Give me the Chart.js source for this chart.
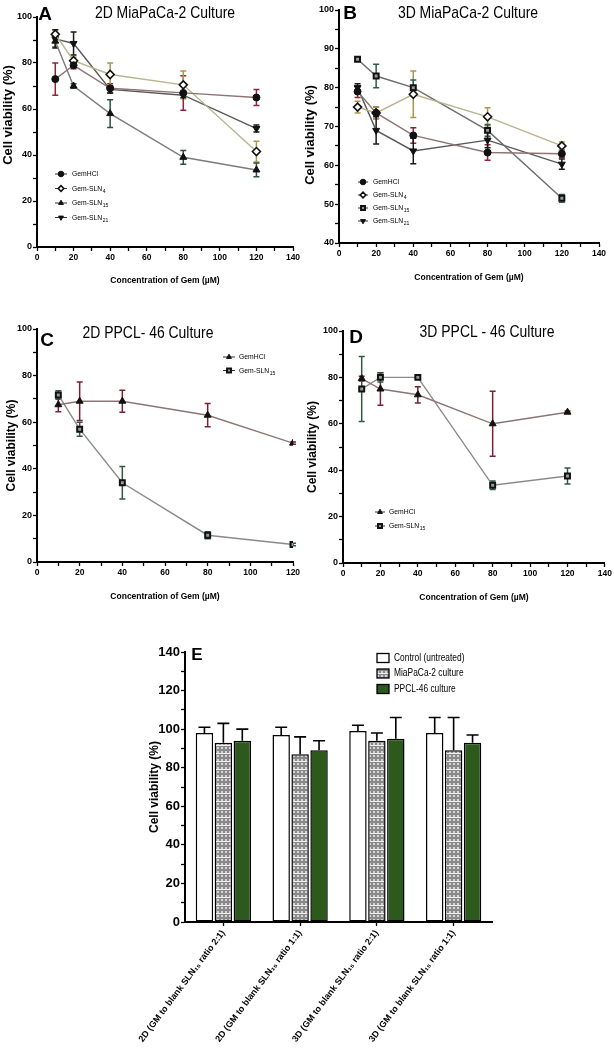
<!DOCTYPE html>
<html><head><meta charset="utf-8">
<script src="https://cdn.jsdelivr.net/npm/chart.js@4.4.1/dist/chart.umd.min.js"></script>
<style>
html,body{margin:0;padding:0;background:#fff;}
#wrap{position:relative;width:614px;height:1050px;overflow:hidden;background:#fff;}
canvas{position:absolute;}
</style></head><body>
<div id="wrap">
<canvas id="cA" width="310" height="300" style="left:0px;top:0px"></canvas>
<canvas id="cB" width="318" height="300" style="left:296px;top:0px"></canvas>
<canvas id="cC" width="304" height="310" style="left:0px;top:300px"></canvas>
<canvas id="cD" width="318" height="310" style="left:296px;top:300px"></canvas>
<canvas id="cE" width="574" height="420" style="left:40px;top:630px"></canvas>
</div>
<script>
// ---------------- DATA ----------------
const conc = [10, 20, 40, 80, 120];

const namesA = ['GemHCl', 'Gem-SLN_4', 'Gem-SLN_15', 'Gem-SLN_21'];
const namesC = ['GemHCl', 'Gem-SLN_15'];

// Panel A: 2D MiaPaCa-2
const aGemHCl   = [73, 79, 69, 67, 65];
const aGemHClSd = [7, 1.5, 2, 7.5, 3.5];
const aSLN4     = [92.5, 81, 75, 70.5, 41.5];
const aSLN4Sd   = [2, 1.5, 5, 6, 4.5];
const aSLN15    = [89.5, 70, 58, 39, 33.5];
const aSLN15Sd  = [2.5, 1, 6, 3, 3];
const aSLN21    = [90.5, 88.5, 68.5, 66, 51.5];
const aSLN21Sd  = [4, 5, 1.5, 1, 1.5];

// Panel B: 3D MiaPaCa-2
const bGemHCl   = [79, 73.5, 67.7, 63.3, 63];
const bGemHClSd = [1.5, 1.5, 2, 2, 1];
const bSLN4     = [75, 73.5, 78.3, 72.5, 65];
const bSLN4Sd   = [1.5, 1.5, 6, 2.3, 1];
const bSLN15    = [87.3, 83, 80, 69, 51.5];
const bSLN15Sd  = [0.5, 3, 2, 1.5, 1];
const bSLN21    = [80, 69, 63.7, 66.5, 60.3];
const bSLN21Sd  = [1, 3.5, 3.3, 2, 1.3];

// Panel C: 2D PPCL-46
const cGemHCl   = [67.5, 69, 69, 63, 51];
const cGemHClSd = [3, 8.3, 4.7, 5, 0.5];
const cSLN15    = [71.7, 57, 34, 11.5, 7.5];
const cSLN15Sd  = [1.8, 3, 7, 1.5, 0.5];

// Panel D: 3D PPCL-46
const dGemHCl   = [79.5, 75, 72.5, 60, 65];
const dGemHClSd = [1, 7, 3.5, 14, 0.5];
const dSLN15    = [75, 80, 80, 33.5, 37.5];
const dSLN15Sd  = [14, 2, 0.5, 1.8, 3.5];

// Panel E: blank SLN
const eCategories = [
  '2D (GM to blank SLN\u2081\u2085 ratio 2:1)',
  '2D (GM to blank SLN\u2081\u2085 ratio 1:1)',
  '3D (GM to blank SLN\u2081\u2085 ratio 2:1)',
  '3D (GM to blank SLN\u2081\u2085 ratio 1:1)'
];
const eSeries = ['Control (untreated)', 'MiaPaCa-2 culture', 'PPCL-46 culture'];
const eControl   = [98, 97, 99, 98];
const eControlSd = [3, 4, 3, 8];
const eMia       = [93, 87, 94, 89];
const eMiaSd     = [10, 9, 4, 17];
const ePPCL      = [94, 89, 95, 93];
const ePPCLSd    = [6, 5, 11, 4];

// ---------------- STYLE / HELPERS ----------------
const SANS = "'Liberation Sans', Arial, sans-serif";
Chart.defaults.font.family = SANS;
Chart.defaults.color = '#000';

function drawErr(chart, o) {
  const ctx = chart.ctx;
  chart.data.datasets.forEach((ds, i) => {
    if (!ds.errors) return;
    const meta = chart.getDatasetMeta(i);
    const ys = chart.scales[meta.yAxisID];
    ctx.save();
    ctx.strokeStyle = ds.errColor || '#000';
    ctx.lineWidth = o.width || 1.5;
    meta.data.forEach((el, j) => {
      const e = ds.errors[j];
      if (!e) return;
      const raw = ds.data[j];
      const v = (typeof raw === 'object') ? raw.y : raw;
      const top = ys.getPixelForValue(v + e);
      const bot = o.upOnly ? ys.getPixelForValue(v) : ys.getPixelForValue(v - e);
      const x = el.x, c = o.cap || 3;
      ctx.beginPath();
      ctx.moveTo(x, top); ctx.lineTo(x, bot);
      ctx.moveTo(x - c, top); ctx.lineTo(x + c, top);
      if (!o.upOnly) { ctx.moveTo(x - c, bot); ctx.lineTo(x + c, bot); }
      ctx.stroke();
    });
    ctx.restore();
  });
}
const errorBars = {
  id: 'errorBars',
  beforeDatasetsDraw(chart, a, o) { if (o.layer === 'below') drawErr(chart, o); },
  afterDatasetsDraw(chart, a, o) { if (o.layer === 'above') drawErr(chart, o); }
};

const panelText = {
  id: 'panelText',
  afterDraw(chart, a, o) {
    if (!o.items) return;
    const ctx = chart.ctx;
    o.items.forEach(t => {
      ctx.save();
      ctx.translate(t.x, t.y);
      if (t.rot) ctx.rotate(t.rot * Math.PI / 180);
      ctx.scale(t.sx || 1, 1);
      ctx.font = t.font;
      ctx.fillStyle = '#000';
      ctx.textAlign = t.align || 'center';
      ctx.textBaseline = 'middle';
      ctx.fillText(t.text, 0, 0);
      ctx.restore();
    });
  }
};

function subText(ctx, label, x, y, size, family) {
  const parts = label.split('_');
  ctx.textAlign = 'left';
  ctx.textBaseline = 'middle';
  ctx.font = size + 'px ' + family;
  ctx.fillText(parts[0], x, y);
  if (parts[1]) {
    const w = ctx.measureText(parts[0]).width;
    ctx.font = Math.round(size * 0.75) + 'px ' + family;
    ctx.fillText(parts[1], x + w + 0.5, y + size * 0.3);
  }
}

const miniLegend = {
  id: 'miniLegend',
  afterDraw(chart, a, o) {
    if (o.x === undefined) return;
    const ctx = chart.ctx;
    chart.data.datasets.forEach((ds, i) => {
      const y = o.y + i * o.gap;
      ctx.save();
      if (o.box) {
        ctx.fillStyle = ds.backgroundColor;
        ctx.strokeStyle = '#000';
        ctx.lineWidth = 1.3;
        ctx.fillRect(o.x, y - o.bh / 2, o.bw, o.bh);
        ctx.strokeRect(o.x, y - o.bh / 2, o.bw, o.bh);
      } else {
        ctx.strokeStyle = '#333';
        ctx.lineWidth = 1;
        ctx.beginPath(); ctx.moveTo(o.x, y); ctx.lineTo(o.x + o.len, y); ctx.stroke();
        ctx.fillStyle = ds.pointBackgroundColor;
        ctx.strokeStyle = ds.pointBorderColor;
        ctx.lineWidth = ds.pointBorderWidth;
        Chart.helpers.drawPoint(ctx, {
          pointStyle: ds.pointStyle, rotation: ds.pointRotation || 0,
          radius: o.r || 3, borderWidth: ds.pointBorderWidth
        }, o.x + o.len / 2, y);
      }
      ctx.fillStyle = '#000';
      ctx.translate(o.tx, y);
      ctx.scale(o.sx || 1, 1);
      subText(ctx, ds.label, 0, 0, o.size, SANS);
      ctx.restore();
    });
  }
};
Chart.register(errorBars, panelText, miniLegend);

function lineDS(label, ys, sd, st) {
  return {
    label, data: conc.map((x, i) => ({ x, y: ys[i] })), errors: sd,
    borderColor: st.line, errColor: st.err, borderWidth: 1.4,
    pointStyle: st.point, pointRotation: st.rot || 0, pointRadius: st.r || 3.5,
    pointBackgroundColor: st.fill || '#111', pointBorderColor: '#111',
    pointBorderWidth: st.bw || 1, tension: 0, fill: false
  };
}

function linAxis(o) {
  return {
    type: 'linear', min: o.min, max: o.max,
    ticks: {
      stepSize: o.step, autoSkip: false, maxRotation: 0, minRotation: 0,
      padding: o.tpad === undefined ? 2 : o.tpad, color: '#000',
      font: { family: SANS, size: o.tsize, weight: 'bold' },
      callback: v => (Math.round(v) % o.every === 0 ? String(v) : '')
    },
    grid: { drawOnChartArea: false, drawTicks: true, tickLength: 4, tickWidth: 1.3, tickColor: '#000' },
    border: { display: true, color: '#000', width: 2 },
    title: { display: o.showTitle !== false, text: o.title, color: '#000', font: o.tfont, padding: o.titlePad },
    afterFit: s => { if (o.w) s.width = o.w; if (o.h) s.height = o.h; }
  };
}

const XT = 'Concentration of Gem (\u00b5M)';
const YT = 'Cell viability (%)';
const xTitleFont = { family: SANS, size: 8.5, weight: 'bold' };

function lineChart(id, datasets, cfg) {
  return new Chart(document.getElementById(id), {
    type: 'line',
    data: { datasets },
    options: {
      responsive: false, animation: false, devicePixelRatio: 1,
      layout: { padding: cfg.pad },
      scales: {
        x: linAxis({ min: 0, max: cfg.xmax, step: 10, every: 20, tsize: 8.5, tpad: 2,
          title: XT, tfont: xTitleFont, titlePad: { top: 0, bottom: 0 }, h: cfg.xh }),
        y: linAxis({ min: cfg.ymin, max: 100, step: cfg.ystep, every: cfg.yevery, tsize: 9, tpad: 1,
          title: YT, tfont: { family: SANS, size: cfg.ytSize, weight: 'bold' }, showTitle: cfg.yTitleAxis !== false,
          titlePad: { top: cfg.ytPad, bottom: 0 }, w: cfg.yw })
      },
      plugins: {
        legend: { display: false }, tooltip: { enabled: false },
        errorBars: { layer: 'below', cap: 3, width: 1.5 },
        panelText: { items: cfg.texts },
        miniLegend: cfg.legend
      }
    }
  });
}

const TITLEF = '17px ' + SANS;
const LETTERF = 'bold 19px ' + SANS;
const TSX = 0.82;

// Panel A
lineChart('cA', [
  lineDS(namesA[0], aGemHCl, aGemHClSd, { line: '#8e7474', err: '#8b2636', point: 'circle' }),
  lineDS(namesA[1], aSLN4, aSLN4Sd, { line: '#b9b38e', err: '#a8984e', point: 'rectRot', fill: '#fff', bw: 1.6, r: 4 }),
  lineDS(namesA[2], aSLN15, aSLN15Sd, { line: '#7c7c7c', err: '#2e5040', point: 'triangle', r: 4 }),
  lineDS(namesA[3], aSLN21, aSLN21Sd, { line: '#585858', err: '#1a1a1a', point: 'triangle', rot: 180, r: 4 })
], {
  pad: { left: 0, top: 17, right: 17, bottom: 14 }, xmax: 140, xh: 39,
  ymin: 0, ystep: 10, yevery: 20, ytSize: 13, ytPad: 0, yw: 37, yTitleAxis: false,
  texts: [
    { text: '2D MiaPaCa-2 Culture', x: 165, y: 13, font: TITLEF, sx: TSX },
    { text: 'A', x: 45, y: 15, font: LETTERF },
    { text: YT, x: 8, y: 115, font: 'bold 13px ' + SANS, rot: -90 }
  ],
  legend: { x: 55, len: 12, tx: 72, y: 174, gap: 14.5, size: 8, r: 2.8, sx: 0.85 }
});

// Panel B
lineChart('cB', [
  lineDS(namesA[0], bGemHCl, bGemHClSd, { line: '#8e7474', err: '#8b2636', point: 'circle' }),
  lineDS(namesA[1], bSLN4, bSLN4Sd, { line: '#b9b38e', err: '#a8984e', point: 'rectRot', fill: '#fff', bw: 1.6, r: 4 }),
  lineDS(namesA[2], bSLN15, bSLN15Sd, { line: '#6e6e6e', err: '#2e5a50', point: 'rect', fill: '#9a9a9a', bw: 2, r: 3.5 }),
  lineDS(namesA[3], bSLN21, bSLN21Sd, { line: '#585858', err: '#1a1a1a', point: 'triangle', rot: 180, r: 4 })
], {
  pad: { left: 0, top: 10, right: 15, bottom: 17 }, xmax: 140, xh: 40,
  ymin: 40, ystep: 5, yevery: 10, ytSize: 13, ytPad: 6, yw: 43, yTitleAxis: false,
  texts: [
    { text: '3D MiaPaCa-2 Culture', x: 172, y: 13, font: TITLEF, sx: TSX },
    { text: 'B', x: 54, y: 14, font: LETTERF },
    { text: YT, x: 14, y: 135, font: 'bold 13px ' + SANS, rot: -90 }
  ],
  legend: { x: 62, len: 10, tx: 77, y: 182, gap: 13, size: 8, r: 2.8, sx: 0.85 }
});

// Panel C
lineChart('cC', [
  lineDS(namesC[0], cGemHCl, cGemHClSd, { line: '#8e7474', err: '#7a2030', point: 'triangle', r: 4 }),
  lineDS(namesC[1], cSLN15, cSLN15Sd, { line: '#8a8a8a', err: '#2f5a40', point: 'rect', fill: '#9a9a9a', bw: 2, r: 3.5 })
], {
  pad: { left: 0, top: 29, right: 11, bottom: 8 }, xmax: 120, xh: 40,
  ymin: 0, ystep: 10, yevery: 20, ytSize: 12, ytPad: 4, yw: 37,
  texts: [
    { text: '2D PPCL- 46 Culture', x: 148, y: 33, font: TITLEF, sx: TSX },
    { text: 'C', x: 47, y: 41, font: LETTERF }
  ],
  legend: { x: 223, len: 12, tx: 239, y: 57, gap: 13.5, size: 8, r: 2.8, sx: 0.85 }
});

// Panel D
lineChart('cD', [
  lineDS(namesC[0], dGemHCl, dGemHClSd, { line: '#8e7474', err: '#7a2030', point: 'triangle', r: 4 }),
  lineDS(namesC[1], dSLN15, dSLN15Sd, { line: '#8a8a8a', err: '#2f5a40', point: 'rect', fill: '#9a9a9a', bw: 2, r: 3.5 })
], {
  pad: { left: 0, top: 31, right: 9, bottom: 7 }, xmax: 140, xh: 40,
  ymin: 0, ystep: 10, yevery: 20, ytSize: 12, ytPad: 9, yw: 47,
  texts: [
    { text: '3D PPCL - 46 Culture', x: 191, y: 32, font: TITLEF, sx: TSX },
    { text: 'D', x: 60, y: 38, font: LETTERF }
  ],
  legend: { x: 79, len: 10, tx: 93, y: 212, gap: 14, size: 8, r: 2.8, sx: 0.85 }
});

// Panel E
function plaid() {
  const c = document.createElement('canvas'); c.width = 8; c.height = 8;
  const g = c.getContext('2d');
  g.fillStyle = '#8a8a8a'; g.fillRect(0, 0, 8, 8);
  g.fillStyle = '#d4d4d4';
  g.fillRect(1, 1, 2, 2); g.fillRect(5, 1, 2, 2); g.fillRect(1, 5, 2, 2); g.fillRect(5, 5, 2, 2);
  g.fillStyle = '#f0f0f0'; g.fillRect(0, 3, 8, 1);
  return g.createPattern(c, 'repeat');
}
function barDS(label, vals, sd, bg) {
  return {
    label, data: vals, errors: sd, errColor: '#000', backgroundColor: bg,
    borderColor: '#000', borderWidth: 1.5, borderSkipped: false,
    categoryPercentage: 0.74, barPercentage: 0.92
  };
}
new Chart(document.getElementById('cE'), {
  type: 'bar',
  data: {
    labels: eCategories,
    datasets: [
      barDS(eSeries[0], eControl, eControlSd, '#ffffff'),
      barDS(eSeries[1], eMia, eMiaSd, plaid()),
      barDS(eSeries[2], ePPCL, ePPCLSd, '#2c5a1c')
    ]
  },
  options: {
    responsive: false, animation: false, devicePixelRatio: 1,
    layout: { padding: { left: 100, top: 22, right: 122, bottom: 0 } },
    scales: {
      x: {
        type: 'category', offset: true,
        grid: { offset: false, drawOnChartArea: false, drawTicks: true, tickLength: 4, tickWidth: 1.3, tickColor: '#000' },
        border: { display: true, color: '#000', width: 2 },
        ticks: { minRotation: 53, maxRotation: 53, autoSkip: false, padding: 2, color: '#000',
          font: { family: SANS, size: 9, weight: 'bold' } },
        afterFit: s => { s.height = 128; }
      },
      y: {
        type: 'linear', min: 0, max: 140,
        ticks: { stepSize: 10, autoSkip: false, padding: 1, color: '#000',
          font: { family: SANS, size: 13, weight: 'bold' },
          callback: v => (Math.round(v) % 20 === 0 ? String(v) : '') },
        grid: { drawOnChartArea: false, drawTicks: true, tickLength: 4, tickWidth: 1.3, tickColor: '#000' },
        border: { display: true, color: '#000', width: 2 },
        title: { display: false },
        afterFit: s => { s.width = 45; }
      }
    },
    plugins: {
      legend: { display: false }, tooltip: { enabled: false },
      errorBars: { layer: 'above', upOnly: true, cap: 6, width: 1.6 },
      panelText: { items: [
        { text: 'E', x: 157, y: 25, font: 'bold 17px ' + SANS },
        { text: YT, x: 115, y: 157, font: 'bold 12px ' + SANS, rot: -90 }
      ] },
      miniLegend: { box: true, x: 337, bw: 12, bh: 9, tx: 354, y: 28, gap: 15.5, size: 10.5, sx: 0.8 }
    }
  }
});
</script>
</body></html>
